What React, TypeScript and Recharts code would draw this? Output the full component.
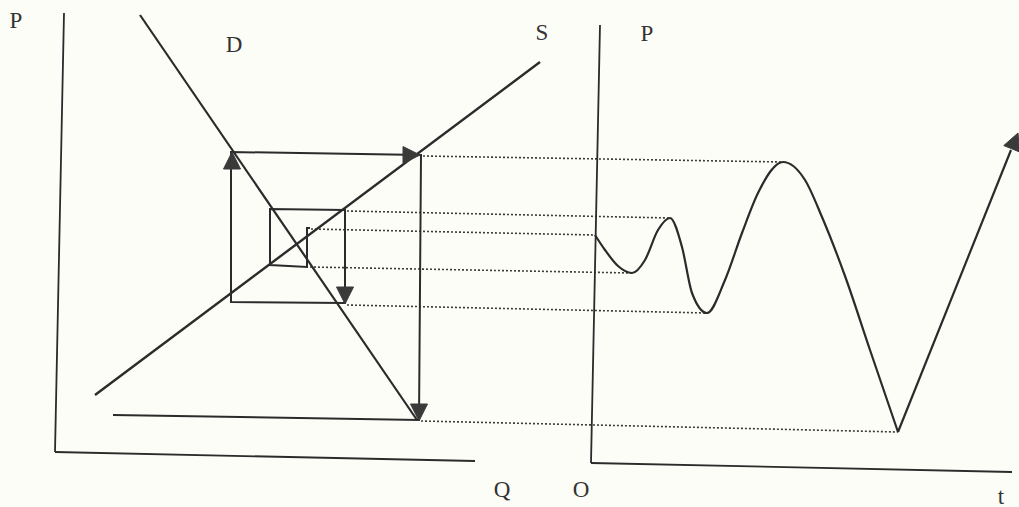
import React from "react";
import { ComposedChart, Line, Scatter, XAxis, YAxis } from "recharts";

// Positions (x to the right, y downwards).
const leftPriceAxis = [{ x: 64, y: 13 }, { x: 55, y: 452 }];
const leftQuantityAxis = [{ x: 55, y: 452 }, { x: 475, y: 461 }];
const rightPriceAxis = [{ x: 600, y: 25 }, { x: 591, y: 463 }];
const rightTimeAxis = [{ x: 591, y: 463 }, { x: 1012, y: 472 }];

const demandLine = [{ x: 140, y: 15 }, { x: 417, y: 420 }];
const supplyLine = [{ x: 95, y: 395 }, { x: 540, y: 62 }];

const cobwebPath = [
  { x: 310, y: 228 }, { x: 307, y: 228 }, { x: 307, y: 267 }, { x: 270, y: 265 },
  { x: 270, y: 209 }, { x: 345, y: 210 }, { x: 345, y: 303 }, { x: 231, y: 302 },
  { x: 231, y: 152 }, { x: 421, y: 155 }, { x: 419, y: 420 }, { x: 113, y: 415 },
];

const guideLevels = [
  [{ x: 423, y: 156 }, { x: 783, y: 162 }],
  [{ x: 347, y: 211 }, { x: 670, y: 218 }],
  [{ x: 311, y: 229 }, { x: 595, y: 235 }],
  [{ x: 310, y: 267 }, { x: 632, y: 273 }],
  [{ x: 347, y: 305 }, { x: 707, y: 313 }],
  [{ x: 421, y: 421 }, { x: 898, y: 432 }],
];

const priceCycle = [
  { x: 595, y: 235 }, { x: 605, y: 250 }, { x: 618, y: 266 }, { x: 632, y: 273 },
  { x: 645, y: 260 }, { x: 658, y: 230 }, { x: 670, y: 218 }, { x: 682, y: 247 },
  { x: 692, y: 293 }, { x: 707, y: 313 }, { x: 725, y: 280 }, { x: 742, y: 233 },
  { x: 758, y: 193 }, { x: 783, y: 162 }, { x: 805, y: 180 }, { x: 822, y: 217 },
  { x: 845, y: 276 }, { x: 870, y: 350 }, { x: 898, y: 432 },
];
const priceRise = [{ x: 898, y: 432 }, { x: 1011, y: 150 }];

const arrowHeads = [
  { x: 232, y: 152, angle: -90 },
  { x: 420, y: 155, angle: 0 },
  { x: 345, y: 304, angle: 90 },
  { x: 419, y: 421, angle: 90 },
  { x: 1018, y: 133, angle: -68 },
];

const textLabels = [
  { x: 16, y: 20, text: "P" },
  { x: 234, y: 44, text: "D" },
  { x: 542, y: 32, text: "S" },
  { x: 502, y: 489, text: "Q" },
  { x: 647, y: 33, text: "P" },
  { x: 581, y: 489, text: "O" },
  { x: 1001, y: 496, text: "t" },
];

const INK = "#2b2b2b";

const Arrow = (props: any) => {
  const { cx, cy, payload } = props;
  if (cx == null || cy == null) return null;
  const a = (payload.angle * Math.PI) / 180;
  const len = 17;
  const half = 8.5;
  const bx = cx - len * Math.cos(a);
  const by = cy - len * Math.sin(a);
  const px = -Math.sin(a) * half;
  const py = Math.cos(a) * half;
  const d = `M${cx},${cy} L${bx + px},${by + py} L${bx - px},${by - py} Z`;
  return <path d={d} fill="#3a3a3a" stroke="#3a3a3a" strokeWidth={1} />;
};

const Label = (props: any) => {
  const { cx, cy, payload } = props;
  if (cx == null || cy == null) return null;
  return (
    <text
      x={cx}
      y={cy}
      textAnchor="middle"
      dominantBaseline="central"
      fontFamily="'Liberation Serif', 'DejaVu Serif', serif"
      fontSize={23}
      fill="#333"
    >
      {payload.text}
    </text>
  );
};

const solid = (key: string, data: any[], width = 2.2, type: any = "linear") => (
  <Line
    key={key}
    data={data}
    dataKey="y"
    type={type}
    stroke={INK}
    strokeWidth={width}
    dot={false}
    activeDot={false}
    isAnimationActive={false}
    legendType="none"
  />
);

export default function App() {
  return (
    <div
      style={{
        position: "absolute",
        left: 0,
        top: 0,
        width: 1019,
        height: 507,
        background: "#fdfdf8",
      }}
    >
      <ComposedChart width={1019} height={507} margin={{ top: 0, right: 0, bottom: 0, left: 0 }}>
        <XAxis dataKey="x" type="number" domain={[0, 1019]} hide allowDataOverflow />
        <YAxis dataKey="y" type="number" domain={[0, 507]} reversed hide allowDataOverflow />
        {guideLevels.map((seg, i) => (
          <Line
            key={`guide-${i}`}
            data={seg}
            dataKey="y"
            type="linear"
            stroke="#3a3a3a"
            strokeWidth={1.6}
            strokeDasharray="2 2"
            dot={false}
            activeDot={false}
            isAnimationActive={false}
          />
        ))}
        {solid("lp", leftPriceAxis, 1.8)}
        {solid("lq", leftQuantityAxis, 1.8)}
        {solid("rp", rightPriceAxis, 1.8)}
        {solid("rt", rightTimeAxis, 1.8)}
        {solid("demand", demandLine, 2.2)}
        {solid("supply", supplyLine, 2.4)}
        {solid("cobweb", cobwebPath, 2)}
        {solid("cycle", priceCycle, 2.2, "monotone")}
        {solid("rise", priceRise, 2.2)}
        <Scatter data={arrowHeads} shape={Arrow} isAnimationActive={false} />
        <Scatter data={textLabels} shape={Label} isAnimationActive={false} />
      </ComposedChart>
    </div>
  );
}
